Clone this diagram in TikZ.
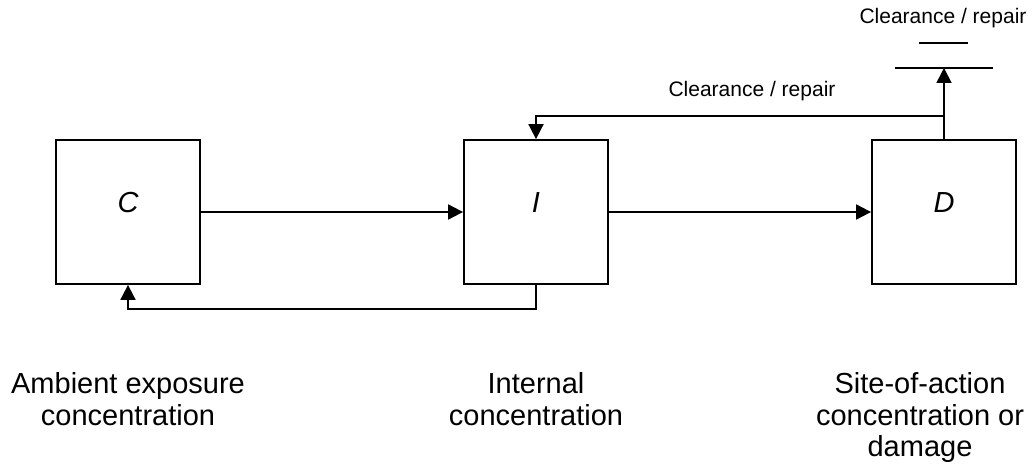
\documentclass[tikz,border=0pt]{standalone}
\usepackage{fontspec}
\setmainfont{Liberation Sans}
\usetikzlibrary{arrows.meta}
\begin{document}
\begin{tikzpicture}[x=1pt,y=-1pt,
  line width=1.8pt,
  stage/.style={draw, minimum width=144pt, minimum height=144pt, inner sep=0pt,
    font=\fontsize{29}{32}\selectfont\itshape, text height=10.5pt, text depth=10.5pt},
  arr/.style={-{Triangle[length=15pt,width=15pt]}},
  caption/.style={align=center, anchor=north, inner sep=0pt,
    font=\fontsize{29}{31.5}\selectfont},
  flowlabel/.style={anchor=base, inner sep=0pt, font=\fontsize{21}{24}\selectfont}]
\useasboundingbox (0,0) rectangle (1032,465);

% compartments
\node[stage] (C) at (128,212) {C};
\node[stage] (I) at (536,212) {I};
\node[stage] (D) at (944,212) {D};

% forward transfer
\draw[arr] (C.east) -- (I.west);
\draw[arr] (I.east) -- (D.west);

% back-transfer from internal to ambient
\draw[arr] (I.south) -- ++(0,24) -| (C.south);

% clearance / repair from the site of action
\coordinate (tap) at (944,116);
\coordinate (sink) at (944,68);
\draw[arr] (tap) -| (I.north);
\draw[arr] (D.north) -- (sink);
\node[flowlabel] (lab1) at (752,97) {Clearance / repair};

% removal sink symbol
\coordinate (barL) at (895,68);
\coordinate (barR) at (993,68);
\coordinate (capL) at (919,43);
\coordinate (capR) at (968,43);
\draw (barL) -- (barR);
\draw (capL) -- (capR);
\node[flowlabel] (lab2) at (943,24) {Clearance / repair};

% captions
\node[caption] (capC) at (128,372) {Ambient exposure\\concentration};
\node[caption] (capI) at (536,372) {Internal\\concentration};
\node[caption] (capD) at (920,372) {Site-of-action\\concentration or\\damage};
\end{tikzpicture}
\end{document}
